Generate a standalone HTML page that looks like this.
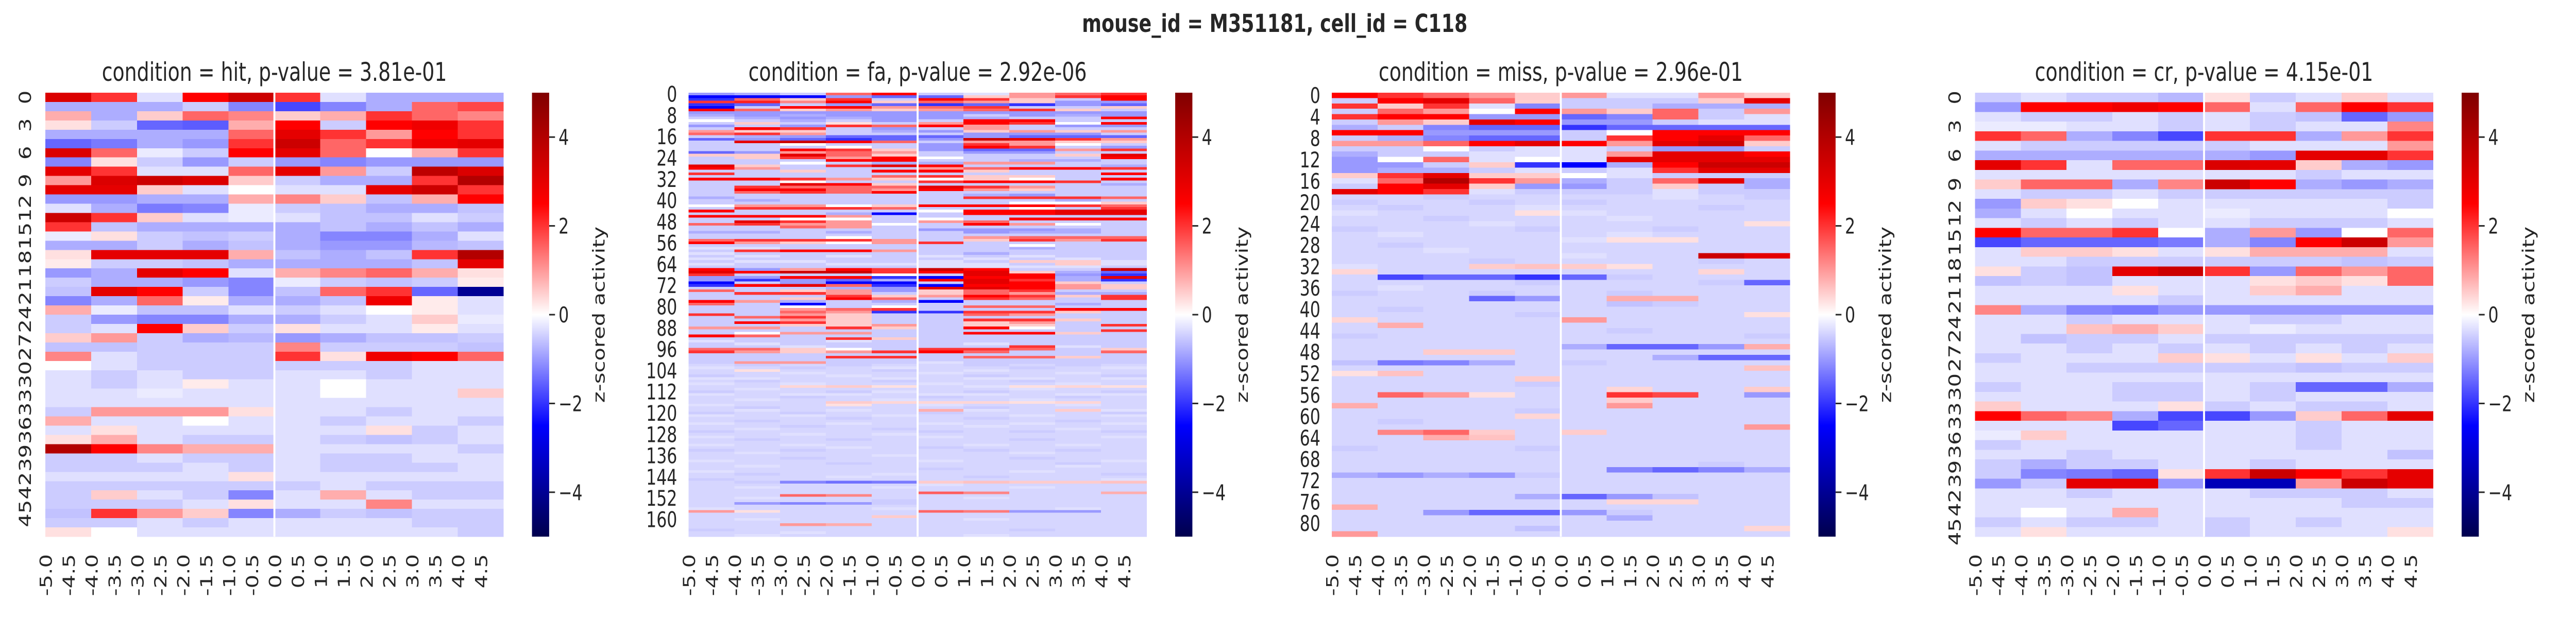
<!DOCTYPE html>
<html><head><meta charset="utf-8"><style>
html,body{margin:0;padding:0;background:#fff;overflow:hidden}
#fig{display:block;width:100vw;height:100vh}
svg text{font-family:"DejaVu Sans","Liberation Sans",sans-serif;fill:#262626}
</style></head><body>
<svg id="fig" xmlns="http://www.w3.org/2000/svg" viewBox="0 0 6600 1200" preserveAspectRatio="none">
<rect width="6600" height="1200" fill="#fff"/>
<text x="3266" y="62" text-anchor="middle" font-size="48" font-weight="bold">mouse_id = M351181, cell_id = C118</text>
</svg>
<script>
// ---- data ----
const timeTicks = ['-5.0','-4.5','-4.0','-3.5','-3.0','-2.5','-2.0','-1.5','-1.0','-0.5','0.0','0.5','1.0','1.5','2.0','2.5','3.0','3.5','4.0','4.5'];
const panelTitles = ['condition = hit, p-value = 3.81e-01','condition = fa, p-value = 2.92e-06','condition = miss, p-value = 2.96e-01','condition = cr, p-value = 4.15e-01'];
const cbarTicks = [-4,-2,0,2,4];
const cbarTickLabels = ['\u22124','\u22122','0','2','4'];
const nCols = 200;
const hitRows = [
[3.2,2,-0.3,2.5,3.5,2,-0.3,-0.8,-0.8,-0.8],
[-0.8,-0.8,-0.8,-0.5,-1.2,-1.8,-1.2,-0.8,1.5,1.8],
[0.8,-0.8,0.5,1.5,1.2,0.5,0.8,2,1.5,1.2],
[0.3,-0.5,-1.5,-1.6,0.8,2.5,-0.5,2.5,2.8,2],
[-0.8,-0.8,-0.8,-0.8,1.5,3,2,1,2.5,2],
[-1.5,-1.3,-0.8,-1,2,3.5,1.5,2,2.8,3],
[3.2,1.5,-0.2,-0.5,2.5,3,1.5,0,0.8,2],
[-1.2,0.3,-0.5,-1,-0.5,-1,-1.2,-1,-1,-1],
[3,2,-0.3,-0.3,1.5,3,1,-0.5,3.8,3.2],
[1,3.2,3.5,3.2,0.5,-0.5,-0.8,-0.8,2,4],
[3,3,0.5,-0.3,0,-0.3,-0.3,3,3.5,2],
[-1,-1,-0.8,-0.8,0.8,1.2,0.5,-0.6,0.8,2.5],
[-0.3,-0.8,-1.3,-1.2,-0.2,-0.5,-0.6,-0.8,-0.8,-0.6],
[3.5,2,0.5,-0.3,-0.2,-0.3,-0.6,-0.6,-0.3,-0.5],
[2,-0.6,-0.8,-0.8,-0.8,-0.8,-0.6,-0.8,-0.6,-0.8],
[-0.2,0.3,-0.5,-0.6,-0.5,-0.8,-1.2,-1.2,-0.8,-0.3],
[-0.8,-0.8,-0.5,-0.8,-0.6,-0.8,-1,-1,-0.7,-0.6],
[0.3,3,3,3,0.8,-0.6,-0.8,-0.6,2,4],
[0.2,-0.5,-0.5,-0.6,-0.8,-0.8,-0.8,-0.8,-0.6,3],
[-1,-0.8,3,2.5,-0.3,0.8,1.2,1.5,0.8,0.3],
[-0.5,-0.8,-0.8,-1,-1.2,-0.2,-0.5,-0.6,-0.5,0.2],
[-0.6,3,2.5,-0.5,-1.2,-0.6,1.5,2,-1.5,-4],
[-1.2,-0.8,1.5,0.2,-0.8,-0.8,-0.6,2.8,0.2,-0.3],
[0.8,-0.2,-0.6,-0.6,-0.3,-0.5,-0.3,0,0.2,-0.3],
[-0.5,-1,-1.2,-1.2,-0.8,-0.8,-0.5,-0.3,0.5,-0.2],
[-0.5,-0.3,2.5,0.5,-0.5,0.3,-0.3,-0.3,0.2,-0.3],
[0.5,1,-0.5,-0.8,-0.7,-1,-0.8,-0.6,-0.6,-0.5],
[-0.6,-0.6,-0.5,-0.5,-0.5,1.2,-0.5,-0.5,-0.5,-0.6],
[1.2,-0.3,-0.5,-0.5,-0.5,2,0.3,2.8,2.5,1.5],
[0,-0.3,-0.5,-0.5,-0.5,-0.5,-0.5,-0.5,-0.3,-0.3],
[-0.3,-0.5,-0.3,-0.5,-0.5,-0.3,-0.3,-0.5,-0.3,-0.3],
[-0.3,-0.5,-0.3,0.2,-0.3,-0.3,0,-0.3,-0.3,-0.3],
[-0.3,-0.3,-0.2,-0.3,-0.3,-0.3,0,-0.3,-0.3,0.5],
[-0.3,-0.3,-0.3,-0.3,-0.3,-0.3,-0.3,-0.3,-0.3,-0.3],
[-0.5,1,1,1,0.3,-0.3,-0.3,-0.5,-0.3,-0.3],
[0.8,-0.3,-0.3,0,-0.3,-0.3,-0.5,-0.3,-0.3,-0.5],
[-0.3,0.3,-0.3,-0.3,-0.3,-0.3,-0.3,0.3,-0.5,-0.3],
[0.3,0.8,-0.3,-0.5,-0.5,-0.3,-0.5,-0.6,-0.5,-0.3],
[4,2.5,1.2,0.8,0.8,-0.3,-0.3,-0.3,-0.3,-0.5],
[-0.5,-0.5,-0.3,-0.5,-0.5,-0.3,-0.5,-0.5,-0.3,-0.3],
[-0.5,-0.5,-0.5,-0.3,-0.5,-0.3,-0.5,-0.5,-0.5,-0.3],
[-0.3,-0.3,-0.3,-0.3,0.3,-0.3,-0.3,-0.3,-0.3,-0.3],
[-0.5,-0.5,-0.5,-0.5,-0.5,-0.5,-0.3,-0.5,-0.5,-0.5],
[-0.5,0.5,-0.3,-0.5,-1.2,-0.3,0.8,-0.3,-0.5,-0.5],
[-0.5,-0.5,-0.5,-0.3,0.3,-0.3,-0.3,1.2,-0.3,-0.3],
[-0.6,2,1,0.5,-1.2,-0.8,-0.5,-0.6,-0.5,-0.5],
[-0.5,-0.5,-0.3,-0.5,-0.3,-0.3,-0.3,-0.3,-0.5,-0.5],
[0.3,0,-0.3,-0.3,-0.3,-0.3,-0.3,-0.3,-0.3,-0.5]
];
const faRows = [
[-1,-0.8,-0.5,1.5,2.5,-0.5,-0.3,1,1.5,2],
[-2.5,-2.5,-2.5,-1,-1.5,-1.5,0.5,1,2,2.5],
[-2,1.5,0.5,2,-0.5,2.5,2,0.5,-0.5,2.5],
[2,2.2,1.2,2.5,0.5,1.5,1,0.5,-1,-1],
[-2,-1.5,-0.5,-1,-1.5,-2,-1.5,-2,-1,-1.5],
[-2.5,-0.5,2.5,2.5,1,1.5,2,-0.5,-0.5,0.5],
[2.5,1.5,0.5,1,0.5,1,1.5,2,0.5,-0.5],
[-1,-1,-1,-1,-1,-1,-1,-1,-1,-1],
[-0.8,-1,-0.8,-1,-1,-1,-0.5,-1,-0.8,-1],
[-0.5,-0.8,-1,-0.8,-1,-1,-0.8,-0.5,-0.5,2.5],
[0,-0.5,-0.8,-0.5,-1,-0.5,2.5,2.5,-0.5,-0.5],
[-0.5,0.5,-0.5,0.3,-0.5,1,2.5,2,0,2.5],
[-1,-0.5,-1,2,1.5,2.5,1,-0.5,-1,-1],
[-0.5,2.5,2,-0.5,-1,-0.5,1,-0.5,-0.5,-0.5],
[1,0.5,0.5,-0.5,-0.8,-1,0.5,1,0.5,1],
[1.5,2,1,-0.5,-0.5,-0.5,-1,-1,-1,-0.5],
[-0.5,-0.8,-1,-1.5,-1.5,-1.5,-1,-1.5,-1.5,-1.5],
[-1.5,-1,-1.5,-2,-1.5,-1,3.5,3,2,1],
[-0.5,3,3.5,2.5,1.5,-0.5,1,1,0.5,0.5],
[-0.5,-0.5,0,-0.5,-0.5,-1,2,1,0,-0.5],
[-0.5,-0.5,-0.5,0,-0.5,-1,2.5,2,-0.5,-1],
[-0.5,-0.5,2.5,2,0.5,-1,-1.5,-1.5,1,2],
[-1.5,-1,1,1.5,1,-0.5,-1,-1,-0.5,-0.5],
[0.5,0.5,3,1.5,0.5,-0.5,-0.5,-0.5,0.5,3],
[-0.5,0.5,2,1,2.5,0,-0.5,-0.5,-0.5,2.5],
[-0.5,-0.5,-0.5,2.5,2.5,-0.5,-0.5,-0.8,-0.8,-0.5],
[-0.5,-0.5,0,-0.5,-0.8,-0.8,1,1,-0.5,-0.5],
[3,0.5,-0.5,2,3,2.5,-0.5,-0.5,-0.5,-0.8],
[2.5,1,-0.5,-0.5,-0.5,1,1.5,2.5,2.5,2],
[-0.5,-0.5,0.5,-0.5,2.5,2.5,0.5,-0.5,-0.5,-0.5],
[2,-0.5,-0.5,-0.5,-0.5,-0.5,-0.5,-0.5,-0.5,2.5],
[-0.5,-0.5,-0.5,-0.5,1.5,2,0.5,0.5,-0.5,-0.5],
[2.5,2.5,2,1,0.5,0,0.5,0,-0.5,2.5],
[-0.5,-0.5,0,-0.5,-0.5,2,2.5,2.5,2,-0.5],
[-0.5,-0.5,3,2.5,0.5,-0.5,-0.5,-0.5,-0.5,-0.8],
[-0.5,2,1.5,1.5,1.5,3,2,1,-0.5,-0.5],
[-0.5,2.5,2.5,1.5,1,2.5,1,0.5,-0.5,-0.5],
[-0.5,1.5,2,1.5,2.5,-0.5,-0.5,-0.5,-0.5,-0.5],
[-0.5,-0.5,-0.5,-0.5,-0.5,-0.5,-0.8,-1,-0.5,-0.5],
[-0.8,-0.5,-0.5,-0.5,-0.5,-0.5,2,2,2,1.5],
[-0.5,-0.8,-0.5,-0.5,-0.5,-0.5,-0.5,-0.5,-0.8,-0.5],
[-0.5,-0.5,-0.5,-0.5,-0.5,-0.5,-0.5,0,0,0.5],
[0,1,1,0,0.5,2.5,2.5,2.5,2,1.5],
[-0.5,2,2,2,1.5,-0.5,-0.5,0,-0.5,2],
[2.5,-0.5,-0.5,-0.5,-0.5,0,2.5,2.5,3,3],
[-0.5,-0.5,-0.5,-0.8,-2.5,-0.5,2.5,2.5,3,3],
[2.5,2.5,2.5,1,-0.5,-0.5,-0.5,-0.5,-0.5,-0.5],
[-0.5,-0.5,0,0,-0.5,0,-0.5,2.5,2.5,2.5],
[-0.5,3,2,1,-0.5,1,1.5,-0.5,-0.5,-0.5],
[1.5,2,1,1,0,-0.5,2.5,1,0,-0.5],
[-0.5,-0.5,1.5,1,-0.5,-0.5,-0.5,-0.5,-0.5,-0.5],
[-0.5,-0.5,-0.5,-0.5,-0.5,-1,-1,-1,-0.8,-0.5],
[-0.8,-0.8,-0.5,-0.8,-0.5,-0.5,-1,-0.8,-0.8,-0.5],
[-0.5,-0.5,-0.5,-0.5,-0.5,-0.5,-0.5,-0.5,-0.5,-0.5],
[-0.5,-0.5,-0.5,0,-0.5,-0.5,1,1.5,1.5,1.5],
[1.5,2,2,2,1,-0.5,0.5,2,1,2],
[2.5,1,0.5,0,1,2,-0.5,-0.5,-0.5,-0.5],
[-0.5,-0.5,-0.5,-0.5,-0.5,-0.5,-0.5,0,-0.5,-0.5],
[-0.3,-0.3,-0.5,-0.5,-0.5,-0.5,-0.5,-0.8,-0.5,-0.5],
[-0.5,2,2.5,2.5,1,-0.5,-0.5,-0.5,-0.5,-0.5],
[-0.3,-0.5,-0.5,-0.5,-0.5,-0.5,-0.8,-0.5,-0.5,-0.5],
[-0.5,-0.3,-0.5,-0.3,-0.5,-0.3,-0.5,-0.3,-0.5,-0.5],
[-0.3,-0.5,-0.5,-0.5,-0.5,-0.5,-0.3,-0.5,-0.3,-0.5],
[-0.5,-0.3,-0.3,-0.5,-0.5,-0.3,-0.5,0.5,0.5,-0.3],
[-0.3,-0.5,-0.5,-0.3,-0.3,-0.3,-0.3,-0.5,0.5,-0.3],
[-0.5,-0.5,-0.5,-0.5,-0.5,-0.3,-0.3,-0.3,-0.3,-0.5],
[2.5,-1,1,2.5,2,3.5,2.5,-0.5,-0.5,3.5],
[3,2.5,3.5,3.5,2,2.5,3,0.5,-0.8,-1.5],
[2,-0.5,-0.5,-0.5,0,-0.5,3,2.5,-1,-2],
[-1,-1,2.5,2.5,-2,-2.5,2.5,2.5,-0.8,3],
[-1,-2,-1,-1.5,-0.8,2.5,3,2,-0.8,-2],
[-2.5,-0.5,-1,-2.5,-2.5,-0.5,3,2.5,0.5,-0.5],
[-2,2.5,3,1.5,-2,-2.5,2.5,2.5,1,0.5],
[-0.5,-0.5,-0.5,-0.8,-1,3,3,2.5,1,0.5],
[1.5,-0.5,0.5,1,-1,0.5,1.5,2,-0.5,-0.5],
[-0.5,2,2,1,-0.5,0.5,1.5,1,-0.8,-0.8],
[-0.5,-0.5,-0.5,2,0.5,1,2.5,2,0.5,2],
[-0.5,-0.5,0.5,2.5,1.5,-0.5,2,1.5,-0.5,2],
[2.5,1,-0.8,-0.5,-0.8,-2.5,-0.5,-0.5,-0.5,-0.5],
[1.5,-0.5,-2.5,-0.5,-0.5,-0.5,-0.5,-0.5,-0.8,-0.5],
[-0.5,-0.5,0,-0.5,0,-0.5,1.5,1.5,-0.5,-0.5],
[-0.5,-0.5,1,1.5,2,-0.5,-0.5,-0.5,2.5,2.5],
[-0.5,-0.5,1.5,1,-2,-2,2,2,0.5,-0.5],
[2,-0.5,1,0.5,-0.5,-0.5,1.5,1,-0.5,-0.5],
[-0.5,1.5,2,0.5,-0.5,-0.5,-0.5,-0.5,-0.5,-0.5],
[-0.5,-0.5,1,0.5,-0.5,-0.5,2,2,0.5,-0.5],
[-0.5,2.5,2,0.5,-0.5,-0.5,0.5,1,-0.5,-0.5],
[-0.5,-0.5,0.5,0.5,1,-0.5,0.5,0.5,-0.5,2],
[1,1,-0.5,2,0.5,-0.5,2.5,0,-0.5,-0.5],
[-0.5,-0.5,-0.5,-0.5,-0.5,-0.5,-0.5,-0.5,-0.5,2],
[-0.5,0,1,1,-0.5,-0.5,2.5,2.5,0.5,-0.5],
[2.5,1.5,-0.5,-0.5,-0.5,-0.5,-0.5,-0.5,-0.5,-0.5],
[-0.5,-0.5,-0.5,2,0.5,-0.5,-0.5,-0.5,-0.5,-0.5],
[-0.3,-0.5,-0.5,-0.3,-0.5,-0.5,-0.5,-0.5,-0.5,-0.5],
[-0.5,-0.3,-0.5,-0.5,-0.5,-0.5,-0.3,-0.5,-0.5,-0.5],
[-0.5,-0.5,-0.3,-0.5,-0.5,-0.5,-0.5,2,-0.3,-0.5],
[1.5,1.5,0.5,0,-0.5,2,2,1.5,-0.5,0.5],
[2,1,0.5,1,2,2.5,1.5,-0.5,-0.5,1.5],
[-0.5,-0.5,-0.5,-0.5,-0.5,-0.5,-0.5,-0.5,-0.5,-0.5],
[-0.5,-0.5,-0.5,2,2,-0.5,1.5,1.5,0.5,-0.5],
[-0.5,-0.5,-0.5,-0.5,-0.5,-0.5,-0.5,-0.5,-0.5,-0.5],
[-0.5,1,1,-0.5,-0.5,-0.3,-0.5,-0.5,-0.5,-0.5],
[-0.4,-0.5,-0.4,-0.5,-0.4,-0.4,-0.5,-0.4,-0.5,-0.4],
[-0.3,-0.4,-0.5,-0.4,-0.3,-0.4,-0.4,-0.5,-0.4,-0.3],
[-0.4,0.3,-0.4,-0.4,-0.5,-0.4,-0.3,-0.4,-0.4,-0.4],
[-0.4,-0.4,-0.3,-0.4,-0.4,-0.3,-0.4,-0.4,-0.3,-0.4],
[-0.5,-0.4,-0.4,-0.3,-0.4,-0.4,-0.5,-0.4,-0.4,-0.5],
[-0.3,-0.3,-0.4,-0.4,-0.3,-0.4,-0.3,-0.3,-0.4,-0.3],
[-0.4,-0.5,-0.4,-0.4,-0.5,-0.4,-0.4,-0.5,-0.4,-0.4],
[-0.3,-0.4,-0.3,-0.4,-0.4,-0.3,-0.4,-0.4,-0.3,-0.4],
[-0.4,-0.4,0.4,0.5,0.3,-0.4,-0.3,0.3,0.4,0.3],
[-0.4,-0.3,-0.4,-0.4,-0.4,-0.4,-0.4,-0.3,-0.4,-0.4],
[-0.5,-0.4,-0.4,-0.5,-0.3,-0.4,-0.5,-0.4,-0.4,-0.5],
[-0.3,-0.4,-0.3,-0.3,-0.4,-0.3,-0.3,-0.4,-0.3,-0.3],
[-0.4,-0.4,-0.5,-0.4,-0.4,-0.5,-0.4,-0.4,-0.5,-0.4],
[-0.4,-0.3,-0.4,-0.4,-0.3,-0.4,-0.4,-0.3,-0.4,-0.4],
[-0.4,-0.4,-0.4,0.5,0.4,0.4,0.4,0.3,0.4,-0.4],
[-0.3,-0.4,-0.4,0.3,-0.4,-0.3,-0.4,-0.4,-0.3,-0.4],
[-0.4,-0.5,-0.4,-0.4,-0.4,-0.4,-0.5,-0.4,-0.4,-0.4],
[-0.4,-0.3,-0.4,-0.3,-0.4,0.8,-0.3,-0.4,0.5,-0.3],
[-0.5,-0.4,-0.5,-0.4,-0.4,-0.5,-0.4,-0.4,-0.4,-0.5],
[-0.3,-0.4,-0.3,-0.4,-0.3,-0.4,-0.4,-0.3,-0.4,-0.3],
[-0.4,-0.4,-0.4,-0.5,-0.4,-0.4,-0.5,-0.4,-0.4,-0.4],
[-0.4,-0.5,-0.4,-0.4,-0.4,-0.4,-0.4,-0.4,-0.5,-0.4],
[-0.3,-0.4,-0.4,-0.3,-0.4,-0.3,-0.4,-0.3,-0.4,-0.3],
[-0.4,-0.4,-0.5,-0.4,-0.4,-0.4,-0.3,-0.4,-0.4,-0.4],
[-0.4,-0.3,-0.4,-0.4,-0.5,-0.4,-0.4,-0.4,-0.3,-0.4],
[-0.5,-0.4,-0.4,-0.4,-0.4,-0.5,-0.4,-0.5,-0.4,-0.5],
[-0.4,-0.4,-0.3,-0.4,-0.3,-0.4,-0.4,-0.4,-0.4,-0.4],
[-0.3,-0.4,-0.4,-0.4,-0.4,-0.3,-0.4,-0.4,-0.4,-0.3],
[-0.4,-0.5,-0.4,-0.5,-0.4,-0.4,-0.4,-0.5,-0.4,-0.4],
[-0.4,-0.4,-0.4,-0.4,-0.4,-0.4,-0.4,-0.4,-0.4,-0.4],
[-0.3,-0.4,-0.3,-0.4,-0.4,-0.4,-0.3,-0.4,-0.3,-0.4],
[-0.4,-0.4,-0.4,-0.3,-0.4,-0.5,-0.4,-0.4,-0.4,-0.4],
[-0.5,-0.4,-0.5,-0.4,-0.4,-0.4,-0.5,-0.4,-0.5,-0.4],
[-0.4,-0.3,-0.4,-0.4,-0.4,-0.4,-0.4,-0.3,-0.4,-0.4],
[-0.4,-0.4,-0.4,-0.4,-0.3,-0.4,-0.4,-0.4,-0.4,-0.4],
[-0.4,-0.4,-0.5,-0.4,-0.4,-0.4,-0.4,-0.5,-0.4,-0.4],
[-0.3,-0.4,-0.4,-0.4,-0.4,-0.3,-0.4,-0.4,-0.4,-0.3],
[-0.4,-0.4,-0.4,-0.5,-0.4,-0.4,-0.4,-0.4,-0.5,-0.4],
[-0.4,-0.3,-0.4,-0.4,-0.4,-0.4,-0.4,-0.4,-0.3,-0.4],
[-0.4,-0.4,-0.4,-0.4,-0.4,-0.5,-0.4,-0.4,-0.4,-0.4],
[-0.3,-0.4,-0.4,-0.4,-0.4,-0.4,-0.4,-0.3,-0.4,-0.4],
[-0.4,-0.5,-0.4,-0.4,-0.3,-0.4,-0.4,-0.4,-0.4,-0.5],
[-0.4,-0.4,-0.4,-0.3,-0.4,-0.4,-0.5,-0.4,-0.4,-0.4],
[-0.5,-0.4,-0.4,-0.4,-0.4,-0.4,-0.4,-0.4,-0.4,-0.3],
[-0.4,-0.5,-1.2,-1.4,-1.3,0.5,0.6,0.5,0.5,0.6],
[-0.4,-0.4,-0.4,-0.4,-0.4,-0.3,-0.4,-0.4,-0.4,-0.4],
[-0.4,-0.3,-0.4,-0.4,-0.3,-0.4,-0.4,-0.3,-0.4,-0.4],
[-0.4,-0.4,-0.4,-0.4,-0.4,-0.4,-0.4,-0.4,-0.4,-0.4],
[-0.4,-0.4,-0.4,-0.4,-0.4,1.6,1.2,-0.4,-0.4,0.8],
[-0.4,-0.4,1.5,1.2,-0.4,-0.4,-0.4,-0.4,-0.4,-0.4],
[-0.4,-0.3,-0.4,-0.4,-0.4,-0.4,-0.3,-0.4,-0.4,-0.4],
[-0.4,-0.4,-0.4,-0.4,-0.5,-0.4,-0.4,-0.4,-0.4,-0.4],
[-0.4,-1,-1.2,-1,-0.5,-0.4,-0.4,-0.4,-0.4,-0.4],
[-0.4,-0.4,-0.4,-0.4,-0.4,-0.4,-0.4,-0.4,-0.4,-0.4],
[-0.3,-0.4,-0.4,-0.4,-0.3,-0.4,-0.4,-0.4,-0.3,-0.4],
[1,0.3,-0.4,-0.4,-0.4,1.5,1.3,-1,-1,-0.4],
[-0.4,-0.4,-0.4,-0.4,-0.4,-0.4,-0.4,-0.4,-0.4,-0.4],
[-0.4,-0.4,-0.4,-0.4,0.5,-0.4,-0.4,-0.4,-0.4,-0.4],
[-0.4,-0.3,-0.4,-0.4,-0.4,-0.4,-0.3,-0.4,-0.4,-0.4],
[-0.4,-0.4,-0.4,-0.4,-0.4,-0.4,-0.4,-0.4,-0.4,-0.4],
[-0.4,-0.4,1,0.8,-0.4,-0.4,-0.4,-0.4,-0.4,-0.4],
[-0.4,-0.4,-0.4,-0.4,-0.4,-0.4,-0.4,-0.4,-0.4,-0.4],
[-0.5,-0.4,-0.4,-0.4,-0.4,-0.4,-0.4,-0.5,-0.4,-0.4],
[-0.4,-0.4,-0.3,-0.4,-0.4,-0.4,-0.4,-0.4,-0.4,-0.4],
[-0.4,-0.3,-0.4,-0.4,-0.4,-0.4,-0.3,-0.4,-0.4,-0.4]
];
const missRows = [
[2.5,2,1.5,1,0.5,1,-0.3,-0.3,1,0.5],
[-0.5,2.5,3,1.5,0.5,-0.5,-0.5,-0.5,0.5,3],
[2,0.5,2,-0.3,-1.2,-0.5,-0.5,-0.8,-0.8,-0.8],
[-0.5,1.5,1,0,2.5,1,0.5,1.5,-0.5,1],
[2,2.5,2.5,-1,-1,-1.5,-1.2,1.5,-0.5,-0.3],
[-0.5,1,0.5,3,2.5,-1,-1,-0.5,-0.3,-0.3],
[-0.8,-0.5,-1.2,-1.5,-1.5,-2,-1.5,-1.5,-1.5,-1.5],
[2.5,2.5,-1,-1,-1,-0.5,0,2.5,2.5,2.5],
[-0.5,-0.8,-1.2,-1.5,-1.5,-0.5,2,2.5,3,1.5],
[1,1,1.5,2.5,3,2.5,1,3,3.5,0.5],
[-0.5,-0.5,0,-0.5,-0.3,-0.3,-0.5,-1,-1,-0.5],
[-0.8,-0.5,-0.5,-0.3,-0.3,-0.3,1,3,3,2.5],
[-1,0,1.5,-0.3,0,-0.3,3,3,3,3],
[-1,-1,-0.5,0.5,-2,-2.5,-0.8,2.5,3.5,3.5],
[-1,-0.8,-0.8,-0.5,-0.3,-0.5,-0.3,2,3,3],
[0.5,2,3,0.5,0.5,0,-0.3,-0.5,-0.5,-0.5],
[-0.3,1.5,4,2,1,-0.8,-0.5,1.5,3,-0.8],
[-0.5,2.5,3,0.5,-1,-1,-0.5,0.5,-0.5,-0.8],
[3,2.5,2,-0.3,-0.5,-0.5,-0.5,-0.3,-0.5,-0.5],
[-0.4,-0.4,-0.5,-0.4,-0.4,-0.4,-0.4,-0.3,-0.4,-0.5],
[-0.5,-0.4,-0.4,-0.5,-0.4,-0.5,-0.4,-0.4,-0.4,-0.4],
[-0.4,-0.5,-0.4,-0.4,-0.3,-0.4,-0.4,-0.4,-0.5,-0.4],
[-0.3,-0.4,-0.4,-0.4,0.3,-0.3,-0.4,-0.4,-0.4,-0.4],
[-0.4,-0.4,-0.5,-0.4,-0.4,-0.4,-0.3,-0.4,-0.4,-0.4],
[-0.4,-0.4,-0.4,-0.3,-0.4,-0.4,-0.4,-0.4,-0.4,0.3],
[-0.5,-0.4,-0.4,-0.4,-0.5,-0.4,-0.4,-0.5,-0.4,-0.4],
[-0.4,-0.3,-0.4,-0.4,-0.4,-0.4,-0.3,-0.4,-0.4,-0.4],
[-0.4,-0.4,-0.4,-0.4,-0.4,-0.3,0.3,0.3,-0.4,-0.4],
[-0.4,-0.5,-0.4,-0.4,-0.4,-0.4,-0.4,-0.4,-0.4,-0.4],
[-0.4,-0.4,-0.3,-0.4,-0.4,-0.4,-0.4,-0.4,-0.4,-0.4],
[-0.4,-0.4,-0.4,-0.4,-0.4,-0.3,-0.4,-0.4,3.5,3],
[-0.4,-0.4,-0.4,-0.5,-0.4,-0.4,-0.4,-0.4,-0.5,-0.4],
[-0.3,-0.4,-0.4,0.5,0.6,0.5,0.3,-0.4,-0.4,-0.4],
[0.4,-0.4,-0.4,-0.4,-0.4,-0.4,-0.4,-0.4,0.4,-0.4],
[-0.4,-1.8,-1.5,-1.5,-2,-1.5,-0.5,-0.4,-0.4,-0.4],
[-0.4,-0.4,-0.4,-0.4,-0.5,-0.4,-0.4,-0.4,-0.5,-1.5],
[-0.4,-0.3,-0.4,-0.4,-0.4,-0.4,-0.4,-0.4,-0.4,-0.4],
[-0.5,-0.4,-0.4,-0.5,-0.4,-0.4,-0.5,-0.4,-0.4,-0.4],
[-0.4,-0.4,-0.4,-1.5,-1,-0.4,0.8,0.8,-0.4,-0.4],
[-0.4,-0.4,-0.4,-0.4,-0.4,-0.4,-0.6,-0.5,-0.4,-0.4],
[-0.4,-0.5,-0.4,-0.4,-0.4,-0.4,-0.4,-0.4,-0.4,-0.4],
[-0.4,-0.4,-0.4,-0.4,-0.5,-0.4,-0.4,-0.4,-0.4,0.3],
[0.4,-0.4,-0.4,-0.4,-0.4,1,-0.4,-0.4,-0.4,-0.4],
[-0.4,0.8,-0.4,-0.4,-0.4,-0.4,-0.4,-0.4,-0.4,-0.4],
[-0.4,-0.4,-0.4,-0.4,-0.4,-0.4,-0.5,-0.4,-0.4,-0.4],
[-0.5,-0.4,-0.4,-0.4,-0.4,-0.4,-0.4,-0.4,-0.4,-0.5],
[-0.4,-0.4,-0.4,-0.4,-0.4,-0.4,-0.4,-0.4,-0.4,-0.4],
[-0.4,-0.4,-0.4,-0.4,-0.4,-0.8,-1.5,-1.5,-1,0.8],
[-0.4,-0.4,0.5,0.5,-0.4,-0.4,-0.4,-0.4,-0.4,-0.4],
[-0.4,-0.4,-0.4,-0.4,-0.4,-0.4,-0.4,-0.8,-1.5,-1.5],
[-0.6,-1.3,-1.2,-0.8,-0.4,-0.5,-0.4,-0.4,-0.4,-0.4],
[-0.4,-0.4,-0.4,-0.4,-0.4,-0.4,-0.4,-0.4,-0.4,0.6],
[0.3,0.6,-0.4,-0.4,-0.4,-0.4,-0.4,-0.4,-0.4,-0.4],
[-0.4,-0.4,-0.4,-0.4,0.5,-0.4,-0.4,-0.4,-0.4,-0.4],
[-0.4,-0.4,-0.4,-0.4,-0.5,-0.4,-0.4,-0.4,-0.4,-0.4],
[-0.4,-0.4,-0.4,-0.4,-0.4,-0.4,0.4,-0.4,-0.4,0.5],
[-0.4,1.5,1,0.3,-0.4,-0.4,2,1.8,-0.4,-1],
[-0.4,-0.4,-0.4,-0.4,-0.4,-0.4,0.5,-0.4,-0.4,-0.4],
[0.8,-0.4,-0.4,-0.4,-0.4,-0.4,1,-0.4,-0.4,-0.4],
[-0.4,-0.4,-0.4,-0.4,-0.5,-0.4,-0.4,-0.4,-0.4,-0.4],
[-0.4,-0.4,-0.4,-0.4,0.4,-0.4,-0.4,-0.4,-0.4,-0.4],
[-0.4,-0.5,-0.4,-0.4,-0.4,-0.4,-0.4,-0.4,-0.4,-0.4],
[-0.4,-0.4,-0.4,-0.4,-0.4,-0.4,-0.4,-0.4,-0.4,1],
[-0.4,1.2,1.5,0.5,-0.4,0.5,-0.4,-0.4,-0.4,-0.4],
[-0.4,-0.4,0.8,0.6,-0.4,-0.4,-0.4,-0.4,-0.4,-0.4],
[-0.4,-0.4,-0.4,-0.4,-0.4,-0.4,-0.4,-0.4,-0.4,-0.4],
[-0.5,-0.4,-0.4,-0.4,-0.5,-0.4,-0.4,-0.4,-0.4,-0.4],
[-0.4,-0.4,-0.4,-0.4,-0.4,-0.4,-0.4,-0.4,-0.4,-0.4],
[-0.4,-0.4,-0.4,-0.4,-0.4,-0.4,-0.4,-0.4,-0.4,-0.4],
[-0.4,-0.4,-0.4,-0.4,-0.4,-0.4,-0.4,-0.4,-0.5,-0.4],
[-0.4,-0.4,-0.4,-0.4,-0.4,-0.4,-1.2,-1.5,-1.2,-0.8],
[-0.8,-1,-0.8,-1,-0.5,-0.4,-0.4,-0.4,-0.4,-0.4],
[-0.4,-0.4,-0.4,-0.4,-0.4,-0.4,-0.4,-0.4,-0.4,-0.4],
[-0.4,-0.4,-0.4,-0.4,-0.4,-0.4,-0.4,-0.4,-0.4,-0.4],
[-0.4,-0.4,-0.4,-0.4,-0.4,-0.4,-0.4,-0.4,-0.4,-0.4],
[-0.4,-0.4,-0.4,-0.4,-0.8,-1.5,-1,-0.6,-0.4,-0.4],
[-0.4,-0.4,-0.4,-0.4,-0.4,-0.4,0.4,0.4,-0.4,-0.4],
[0.8,-0.4,-0.4,-0.4,-0.4,-0.4,-0.4,-0.4,-0.4,-0.4],
[-0.4,-0.4,-1,-1.5,-1.5,-1,-0.5,-0.4,-0.4,-0.4],
[-0.4,-0.4,-0.4,-0.4,-0.4,-0.4,-0.8,-0.4,-0.4,-0.4],
[-0.4,-0.4,-0.4,-0.4,-0.4,-0.4,-0.4,-0.4,-0.4,-0.4],
[-0.4,-0.4,-0.4,-0.4,-0.6,-0.4,-0.4,-0.4,-0.4,0.4],
[1,-0.4,-0.4,-0.4,-0.4,-0.4,-0.4,-0.4,-0.4,-0.4]
];
const crRows = [
[-0.5,-0.3,-0.5,-0.5,-0.7,0.3,-0.5,-0.3,0.5,-0.3],
[-1,2.5,2.5,2.8,2.5,1.5,-0.3,1.5,2.5,2],
[-0.3,-0.5,-0.5,-0.3,-0.5,-0.3,-0.5,-0.6,-1.5,-1],
[-0.2,-0.2,-0.3,-0.3,-0.5,-0.3,-0.5,-0.3,-0.3,1.2],
[2,1.5,-0.8,-1.2,-1.8,2,2,-0.8,1,2],
[-0.3,-0.5,-0.5,-0.5,-0.5,-0.5,-0.3,-0.3,-0.3,1],
[-0.8,-0.8,-0.8,-0.8,-0.8,-0.8,-1,3,3,2],
[3,2,-0.3,1.5,1.5,3.2,3,0.5,-0.8,-1],
[-0.3,-0.3,-0.3,-0.3,-0.3,-0.3,-0.3,-0.5,-0.3,-0.3],
[0.5,1.5,1.5,-0.8,1.2,3.5,2.5,-0.8,-1,-0.8],
[-0.3,-0.5,-0.5,-0.3,-0.5,-0.5,-0.5,-0.5,-0.5,-0.5],
[-1,0.5,0.3,0,-0.3,-0.3,-0.3,-0.3,-0.3,-0.5],
[-0.8,-0.3,0,-0.3,-0.3,-0.2,-0.3,-0.3,-0.3,0],
[-0.3,-0.5,-0.3,-0.5,-0.3,-0.3,-0.5,-0.5,-0.5,-0.3],
[2.5,1.5,1.5,2,0,-0.8,1,-1,0,1.5],
[-1.8,-1.5,-1.5,-1.5,-1.3,-0.8,-1.2,2.5,3.5,1],
[-0.3,0.5,0.5,0.3,-0.3,0.3,0.8,0.8,0.8,-0.3],
[-0.3,-0.3,-0.5,-0.5,-0.5,-0.5,-0.5,-0.5,-0.6,-0.5],
[0.3,-0.5,-0.6,3,3.5,2,-1,1.5,1,1.5],
[-0.6,-0.5,-0.6,-0.3,-0.3,-0.3,0.3,0.5,0.3,1.5],
[-0.3,-0.3,-0.3,0.3,-0.3,-0.3,0.5,0.8,-0.3,-0.3],
[-0.3,-0.3,-0.3,-0.3,-0.5,-0.3,-0.3,-0.3,-0.3,-0.3],
[1.2,-0.8,-1.2,-1.3,-1,-1,-1,-1,-1,-1],
[-0.3,-0.3,-0.5,-0.3,-0.3,-0.3,-0.5,-0.5,-0.3,-0.3],
[-0.3,-0.3,0.6,0.8,0.5,-0.3,-0.2,-0.3,-0.3,-0.3],
[-0.3,-0.6,-0.5,-0.5,-0.3,-0.5,-0.5,-0.5,-0.5,-0.5],
[-0.3,-0.3,-0.5,-0.3,-0.5,-0.3,-0.5,-0.3,-0.5,-0.3],
[-0.5,-0.3,-0.3,-0.3,0.5,0.3,-0.3,0.3,-0.3,0.5],
[-0.3,-0.3,-0.5,-0.5,-0.5,-0.5,-0.5,-0.6,-0.5,-0.5],
[-0.3,-0.3,-0.3,-0.3,-0.3,-0.3,-0.3,-0.3,-0.3,-0.3],
[-0.5,-0.3,-0.3,-0.5,-0.5,-0.3,-0.5,-1.5,-1.5,-0.8],
[-0.3,-0.3,-0.3,-0.5,-0.5,-0.3,-0.5,-0.3,-0.3,-0.3],
[0.5,-0.3,-0.3,-0.3,0.3,-0.5,-0.3,-0.5,-0.5,-0.3],
[2.5,1.5,1.2,-0.8,-1.8,-1.8,-1,0.5,1.5,3],
[-0.3,-0.3,-0.3,-1.8,-1.5,-0.3,-0.3,-0.5,-0.3,-0.3],
[-0.2,0.5,-0.3,-0.3,-0.3,-0.3,-0.3,-0.5,-0.3,-0.3],
[-0.5,-0.3,-0.3,-0.3,-0.3,-0.3,-0.3,-0.5,-0.3,-0.3],
[-0.3,-0.3,-0.5,-0.3,-0.3,-0.3,-0.3,-0.3,-0.3,-0.6],
[-0.5,-0.8,-0.5,-0.5,-0.3,-0.3,-0.5,-0.3,-0.3,-0.3],
[-0.5,-1.2,-1.3,-1.5,0.3,2,3.5,2.5,2,3],
[-1,-0.5,3,3,-1,-3.5,-3.5,1,3.5,3],
[-0.3,-0.3,-0.5,-0.3,-0.3,-0.3,-0.5,-0.5,-0.5,-0.3],
[-0.3,-0.3,-0.3,-0.3,-0.3,-0.3,-0.3,-0.3,-0.5,-0.5],
[-0.3,0,-0.3,0.8,-0.3,-0.3,-0.3,-0.3,-0.3,-0.3],
[-0.5,-0.3,-0.5,-0.5,-0.3,-0.5,-0.3,-0.5,-0.3,-0.3],
[-0.3,0.3,-0.3,-0.3,-0.3,-0.5,-0.3,-0.3,-0.3,0.3]
];
const yTickStep = [3, 8, 4, 3];
const yTickRotated = [true, false, false, true];

// ---- rendering ----
const NS = 'http://www.w3.org/2000/svg';
const svg = document.getElementById('fig');
const VMIN = -5, VMAX = 5;
function seismic(v){
  let t = (v - VMIN) / (VMAX - VMIN); t = Math.max(0, Math.min(1, t));
  let r,g,b;
  if (t < 0.25){ const u=t/0.25; r=0; g=0; b=0.3+0.7*u; }
  else if (t < 0.5){ const u=(t-0.25)/0.25; r=u; g=u; b=1; }
  else if (t < 0.75){ const u=(t-0.5)/0.25; r=1; g=1-u; b=1-u; }
  else { const u=(t-0.75)/0.25; r=1-0.5*u; g=0; b=0; }
  return 'rgb('+Math.round(r*255)+','+Math.round(g*255)+','+Math.round(b*255)+')';
}
function mk(tag, attrs, parent){
  const e = document.createElementNS(NS, tag);
  for (const k in attrs) e.setAttribute(k, attrs[k]);
  (parent||svg).appendChild(e); return e;
}
const defs = mk('defs', {});
const grad = mk('linearGradient', {id:'cmap', x1:'0', y1:'1', x2:'0', y2:'0'}, defs);
for (let i=0;i<=20;i++){ mk('stop', {offset:(i/20), 'stop-color':seismic(VMIN+(VMAX-VMIN)*i/20)}, grad); }

const panels = [
  {rows: hitRows, left: 116},
  {rows: faRows, left: 1764},
  {rows: missRows, left: 3412},
  {rows: crRows, left: 5060}
];
const TOP = 180, H = 862, W = 1174;
panels.forEach((p, pi) => {
  const g = mk('g', {});
  
  
  const nRows = p.rows.length;
  const xScale = c => p.left + c * W / nCols;
  const yScale = r => TOP + r * H / nRows;
  const cellG = mk('g', {'shape-rendering':'crispEdges'}, g);
  
  
  p.rows.forEach((row, r) => {
    const nb = row.length, span = nCols / nb;
    row.forEach((v, b) => {
      const x0 = xScale(b*span), x1 = xScale((b+1)*span);
      const y0 = yScale(r), y1 = yScale(r+1);
      const rc = mk('rect', {x:x0.toFixed(2), y:y0.toFixed(2), width:(x1-x0+0.6).toFixed(2), height:(y1-y0+0.6).toFixed(2), fill:seismic(v)}, cellG);
      
      
    });
  });
  const zc = xScale(nCols/2);
  const wl = mk('rect', {x:(zc-2.5).toFixed(2), y:TOP, width:5, height:H, fill:'#fff'}, g);
  
  
  const tt = mk('text', {x:(p.left+W/2), y:157, 'text-anchor':'middle', 'font-size':50}, g);
  tt.textContent = panelTitles[pi];
  
  
  timeTicks.forEach((lab, i) => {
    const x = xScale(i*10 + 0.5);
    const t = mk('text', {x:0, y:0, 'text-anchor':'end', 'font-size':41.7, transform:'translate('+(x+14).toFixed(1)+',1076) rotate(-90)'}, g);
    t.textContent = lab;
    
    
  });
  const step = yTickStep[pi];
  for (let r = 0; r < nRows; r += step){
    const yc = yScale(r + 0.5);
    let t;
    if (yTickRotated[pi]){
      t = mk('text', {x:0, y:0, 'text-anchor':'middle', 'font-size':41.7, transform:'translate('+(p.left-37)+','+yc.toFixed(1)+') rotate(-90)'}, g);
    } else {
      t = mk('text', {x:p.left-29, y:(yc+15).toFixed(1), 'text-anchor':'end', 'font-size':41.7}, g);
    }
    t.textContent = String(r);
    
    
  }
  const cx = p.left + 1247, cw = 44;
  const cb = mk('rect', {x:cx, y:TOP, width:cw, height:H, fill:'url(#cmap)'}, g);
  
  
  const cScale = v => TOP + (VMAX - v) / (VMAX - VMIN) * H;
  cbarTicks.forEach((v, i) => {
    const y = cScale(v);
    const tl = mk('line', {x1:cx+cw, x2:cx+cw+15, y1:y, y2:y, stroke:'#262626', 'stroke-width':3}, g);
    
    
    const t = mk('text', {x:cx+cw+24, y:(y+15).toFixed(1), 'font-size':41.7}, g);
    t.textContent = cbarTickLabels[i];
    
    
  });
  const cl = mk('text', {x:0, y:0, 'text-anchor':'middle', 'font-size':41.7, transform:'translate('+(p.left+1433)+','+(TOP+H/2)+') rotate(-90)'}, g);
  cl.textContent = 'z-scored activity';
  
  
});
</script>
</body></html>
